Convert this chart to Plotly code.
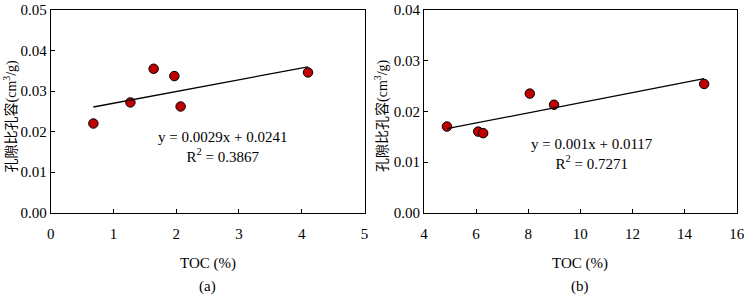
import numpy as np
import plotly.graph_objects as go

# ---- data ----
toc_a = [0.68, 1.27, 1.64, 1.97, 2.07, 4.10]
pv_a = [0.0220, 0.0272, 0.0355, 0.0337, 0.0262, 0.0346]
fit_a = (0.0029, 0.0241)
eq_a = "y = 0.0029x + 0.0241<br>R<sup>2</sup> = 0.3867"

toc_b = [4.88, 6.08, 6.27, 8.06, 8.99, 14.75]
pv_b = [0.0170, 0.0160, 0.0157, 0.0235, 0.0213, 0.0254]
fit_b = (0.001, 0.0117)
eq_b = "y = 0.001x + 0.0117<br>R<sup>2</sup> = 0.7271"

xticks_a = [0, 1, 2, 3, 4, 5]
yticks_a = [0.00, 0.01, 0.02, 0.03, 0.04, 0.05]
xticks_b = [4, 6, 8, 10, 12, 14, 16]
yticks_b = [0.00, 0.01, 0.02, 0.03, 0.04]

ytitle = "孔隙比孔容(cm<sup>3</sup>/g)"
xtitle = "TOC (%)"
panel_labels = ["(a)", "(b)"]

FONT = "Liberation Serif, Times New Roman, Noto Sans CJK SC, serif"
W, H = 744, 297
FS = 15

fig = go.Figure()

def add_panel(x, y, fit, xa, ya):
    fig.add_trace(go.Scatter(
        x=x, y=y, mode="markers", xaxis=xa, yaxis=ya,
        marker=dict(size=9.5, color="#BE0000", line=dict(color="#000000", width=1)),
        showlegend=False, cliponaxis=False))
    xs = np.array([min(x), max(x)])
    fig.add_trace(go.Scatter(
        x=xs, y=fit[0] * xs + fit[1], mode="lines", xaxis=xa, yaxis=ya,
        line=dict(color="#000000", width=1.3), showlegend=False))

add_panel(toc_a, pv_a, fit_a, "x", "y")
add_panel(toc_b, pv_b, fit_b, "x2", "y2")

# panel pixel boxes (left, right); shared top/bottom
PA = (50.7, 364.5)
PB = (424, 736.7)
TOP, BOT = 10, 212.7

def dom(a, b):
    return [a / W, b / W]

ydom = [(H - BOT) / H, (H - TOP) / H]

axis_common = dict(
    showline=True, linecolor="#000000", linewidth=1, mirror=True,
    ticks="inside", ticklen=4, tickcolor="#000000", showgrid=False, zeroline=False,
    tickfont=dict(family=FONT, size=FS, color="#000000"), automargin=False,
    ticklabeloverflow="allow",
)

fig.update_layout(
    width=W, height=H, margin=dict(l=0, r=0, t=0, b=0, autoexpand=False),
    paper_bgcolor="white", plot_bgcolor="white",
    font=dict(family=FONT, color="#000000"),
    xaxis=dict(domain=dom(*PA), range=[0, 5], tickvals=xticks_a, anchor="y",
               ticklabelstandoff=7, **axis_common),
    yaxis=dict(domain=ydom, range=[0, 0.05], tickvals=yticks_a, tickformat=".2f",
               anchor="x", **axis_common),
    xaxis2=dict(domain=dom(*PB), range=[4, 16], tickvals=xticks_b, anchor="y2",
                ticklabelstandoff=7, **axis_common),
    yaxis2=dict(domain=ydom, range=[0, 0.04], tickvals=yticks_b, tickformat=".2f",
                anchor="x2", **axis_common),
)

fig.add_annotation(x=2.74, y=0.0163, xref="x", yref="y", text=eq_a, showarrow=False,
                   font=dict(family=FONT, size=FS), align="center")
fig.add_annotation(x=10.45, y=0.0115, xref="x2", yref="y2", text=eq_b, showarrow=False,
                   font=dict(family=FONT, size=FS), align="center")

for (l, r), lab, ytx in zip([PA, PB], panel_labels, [10.5, 381]):
    cx = (l + r) / 2 / W
    fig.add_annotation(x=cx, y=(H - 263) / H, xref="paper", yref="paper",
                       xanchor="center", yanchor="middle",
                       text=xtitle, showarrow=False, font=dict(family=FONT, size=FS))
    fig.add_annotation(x=cx, y=(H - 286) / H, xref="paper", yref="paper",
                       xanchor="center", yanchor="middle",
                       text=lab, showarrow=False, font=dict(family=FONT, size=FS))
    fig.add_annotation(x=ytx / W, y=(H - 116) / H, xref="paper", yref="paper",
                       xanchor="center", yanchor="middle",
                       text=ytitle, textangle=-90, showarrow=False,
                       font=dict(family=FONT, size=14))

fig.write_html("out.html", config={"displayModeBar": False},
               post_script="document.body.style.margin='0';")
